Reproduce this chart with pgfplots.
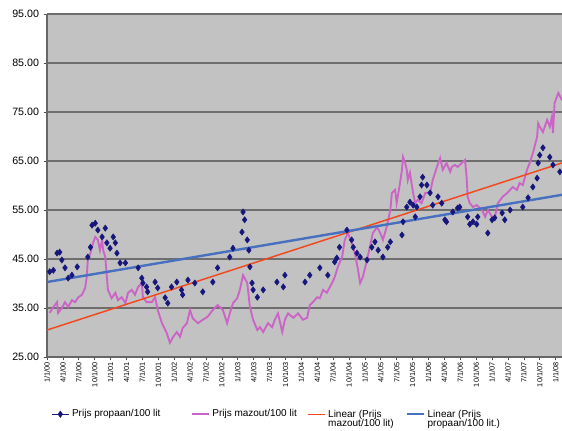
\documentclass[border=0pt]{standalone}
\usepackage{fontspec}
\setmainfont{Liberation Sans}
\usepackage{pgfplots}
\pgfplotsset{compat=1.18}
\definecolor{plotbg}{RGB}{194,194,194}
\definecolor{gridc}{RGB}{110,110,110}
\definecolor{navyc}{RGB}{22,22,125}
\definecolor{mazc}{RGB}{204,100,200}
\definecolor{redt}{RGB}{242,72,30}
\definecolor{bluet}{RGB}{72,112,192}
\begin{document}
\begin{tikzpicture}
\begin{axis}[
  at={(0,0)}, anchor=south west,
  scale only axis, width=386.25pt, height=257.25pt,
  xmin=0, xmax=97.2, ymin=25, ymax=95,
  axis background/.style={fill=plotbg},
  axis lines=left, axis line style={-, draw=black!60, line width=1pt},
  ytick={25,35,...,95},
  ymajorgrids, grid style={draw=gridc, line width=1pt},
  yticklabel style={font=\fontsize{8}{9}\selectfont, /pgf/number format/.cd, fixed, fixed zerofill, precision=2, assume math mode=true},
  xtick={0,3,...,96},
  xticklabels={1/1/00,4/1/00,7/1/00,10/1/00,1/1/01,4/1/01,7/1/01,10/1/01,1/1/02,4/1/02,7/1/02,10/1/02,1/1/03,4/1/03,7/1/03,10/1/03,1/1/04,4/1/04,7/1/04,10/1/04,1/1/05,4/1/05,7/1/05,10/1/05,1/1/06,4/1/06,7/1/06,10/1/06,1/1/07,4/1/07,7/1/07,10/1/07,1/1/08},
  xticklabel style={rotate=90, anchor=east, font=\fontsize{5.5}{6}\selectfont, inner sep=1.5pt},
  tick align=outside, major tick length=2.5pt, tick style={draw=black!70, line width=0.5pt},
  legend columns=4,
  legend style={draw=none, fill=none, at={(rel axis cs:0,0)}, anchor=north west, xshift=0pt, yshift=-35pt,
    font=\fontsize{7.5}{8.5}\selectfont, column sep=0pt, /tikz/every even column/.append style={column sep=0pt}},
  legend cell align=left,
  legend image code/.code={\draw[#1] (0cm,0cm) -- (0.45cm,0cm);},
]
% mazout line (drawn first, legend added later)
\addplot[mazc, line width=1.4pt, forget plot] coordinates {
(0.5,34.0)(1.2,35.2)(1.9,36.2)(2.1,34.0)(2.8,35.0)(3.4,36.2)(4.0,35.2)(4.7,36.6)(5.3,36.2)(5.9,37.2)
(6.6,37.7)(7.2,39.1)(7.5,41.3)(7.7,44.8)(8.2,46.2)(8.7,48.3)(9.1,49.5)(9.6,48.9)(10.0,46.8)(10.4,48.9)
(10.6,46.8)(11.0,45.4)(11.3,41.3)(11.5,38.7)(12.2,37.0)(12.9,38.1)(13.4,36.6)(14.1,37.2)(14.8,36.0)(15.3,38.1)
(16.0,38.7)(16.6,37.7)(17.2,39.3)(17.9,40.1)(18.1,37.2)(18.8,36.2)(19.8,36.2)(20.4,37.2)(20.9,34.6)(21.7,31.9)
(22.6,29.9)(23.2,27.9)(23.8,29.1)(24.5,30.1)(25.1,29.1)(25.6,30.9)(26.4,31.9)(27.0,34.6)(27.5,32.9)(28.5,31.9)
(29.4,32.6)(30.3,33.2)(31.3,34.6)(32.2,35.6)(33.2,34.6)(34.0,31.9)(34.5,33.9)(35.1,36.0)(35.9,37.0)(36.4,38.7)
(37.0,41.7)(37.8,40.1)(38.3,35.2)(38.9,32.6)(39.7,30.5)(40.2,31.1)(40.8,30.1)(41.7,31.9)(42.5,31.1)(43.0,32.6)
(43.6,33.9)(44.4,30.1)(44.9,32.6)(45.5,33.9)(46.5,33.0)(47.4,33.9)(48.3,32.6)(49.1,33.0)(49.6,35.6)(50.2,36.2)
(51.0,37.2)(51.5,37.0)(52.1,38.7)(52.8,38.1)(53.8,40.1)(54.3,41.3)(54.9,43.4)(55.7,45.4)(56.2,48.9)(56.8,50.3)
(57.5,48.3)(58.1,46.2)(58.7,42.8)(59.1,40.1)(59.6,41.3)(60.4,44.8)(61.5,50.3)(62.3,51.5)(62.9,50.3)(63.4,48.9)
(64.1,51.5)(64.8,55.0)(65.1,58.5)(65.7,59.1)(66.0,56.4)(66.6,60.3)(67.0,63.2)(67.2,65.8)(67.6,64.6)(67.9,63.2)
(68.1,61.1)(68.5,62.6)(68.8,60.5)(69.1,58.5)(69.5,56.4)(70.0,57.1)(70.7,56.4)(71.4,58.5)(72.3,58.5)(72.8,61.1)
(73.6,63.8)(74.2,65.6)(74.7,63.2)(75.4,64.6)(76.1,62.8)(76.4,63.8)(77.0,64.2)(77.5,63.8)(78.3,64.6)(78.9,65.2)
(79.2,61.7)(79.4,57.7)(79.8,56.4)(80.4,55.6)(81.1,56.0)(82.1,55.0)(82.7,53.6)(83.2,55.0)(84.0,53.6)(84.5,53.4)
(85.1,56.4)(86.0,57.7)(86.9,58.5)(87.9,59.7)(88.7,59.1)(89.2,60.5)(89.8,60.1)(90.6,63.2)(91.1,64.6)(91.7,66.6)
(92.5,69.9)(92.7,72.7)(93.0,72.0)(93.6,70.9)(94.4,73.4)(94.9,72.0)(95.3,74.0)(95.5,70.7)(95.8,76.8)(96.5,78.9)
(97.2,77.4)
};
% propaan points
\addplot[navyc, only marks, mark=diamond*, mark size=2.3pt,
  legend image code/.code={\draw[navyc, line width=0.8pt] (0cm,0cm) -- (0.45cm,0cm);
    \fill[navyc] (0.225cm,0.085cm) -- (0.285cm,0cm) -- (0.225cm,-0.085cm) -- (0.165cm,0cm) -- cycle;}]
coordinates {
(0.5,42.4)(1.2,42.7)(1.9,46.2)(2.4,46.4)(2.8,44.8)(3.4,43.2)(4.0,41.1)(4.7,41.7)(5.7,43.4)(7.7,45.4)
(8.2,47.4)(8.5,51.9)(9.1,52.3)(9.6,50.9)(10.4,49.5)(11.0,51.3)(11.3,48.3)(11.9,47.2)(12.5,49.5)(12.9,48.3)
(13.2,46.2)(13.8,44.2)(14.8,44.2)(17.2,43.2)(17.9,41.1)(18.1,40.1)(18.8,39.3)(19.0,38.3)(20.4,40.3)(20.9,39.1)
(22.3,37.1)(22.8,36.0)(23.5,39.3)(24.5,40.3)(25.4,38.7)(25.6,37.7)(26.6,40.7)(27.9,40.1)(29.4,38.3)(31.3,40.3)
(32.2,43.2)(34.5,45.4)(35.1,47.2)(36.8,50.5)(37.0,54.6)(37.3,53.0)(37.8,48.9)(38.1,46.8)(38.3,43.4)(38.7,40.1)
(38.9,38.7)(39.7,37.2)(40.8,38.7)(43.4,40.3)(44.6,39.3)(44.9,41.7)(48.7,40.3)(49.6,41.7)(51.5,43.2)(53.0,41.7)
(54.3,44.4)(54.7,45.2)(55.2,47.4)(56.6,50.9)(57.5,48.9)(57.8,47.4)(58.5,46.2)(59.1,45.4)(60.4,44.8)(61.3,47.4)
(61.9,48.5)(62.5,46.8)(63.4,45.4)(64.3,47.4)(64.8,48.5)(67.0,49.9)(67.2,52.6)(67.9,55.6)(68.5,56.6)(69.1,56.0)
(69.5,53.6)(69.8,55.6)(70.4,57.7)(70.7,60.1)(70.9,61.7)(71.7,60.1)(72.3,58.5)(72.8,56.0)(73.8,57.7)(74.5,56.4)
(75.1,53.0)(75.4,52.6)(76.6,54.6)(77.5,55.4)(77.9,55.6)(79.4,53.6)(79.8,52.1)(80.4,52.6)(81.1,52.1)(81.3,53.6)
(83.2,50.3)(84.0,53.0)(84.5,53.4)(85.9,54.4)(86.4,53.0)(87.4,55.0)(89.8,55.6)(90.8,57.5)(91.7,59.7)(92.5,61.5)
(92.7,64.6)(93.0,66.2)(93.6,67.7)(94.9,65.8)(95.5,64.2)(96.8,62.8)
};
\addlegendentry{\makebox[87pt][l]{Prijs propaan/100 lit}}
\addlegendimage{mazc, line width=1.4pt}
\addlegendentry{\makebox[69pt][l]{Prijs mazout/100 lit}}
% linear trend mazout
\addplot[redt, line width=1.1pt] coordinates {(0,30.5)(97.2,64.6)};
\addlegendentry{\begin{tabular}[t]{@{}p{56pt}@{}}Linear (Prijs\\[-1.5pt] mazout/100 lit)\end{tabular}}
% linear trend propaan
\addplot[bluet, line width=1.8pt] coordinates {(0,40.3)(97.2,58.1)};
\addlegendentry{\begin{tabular}[t]{@{}p{58pt}@{}}Linear (Prijs\\[-1.5pt] propaan/100 lit.)\end{tabular}}
\end{axis}
\pgfresetboundingbox
\useasboundingbox (-35.25pt,-54.75pt) rectangle (386.25pt,267.75pt);
\end{tikzpicture}
\end{document}
